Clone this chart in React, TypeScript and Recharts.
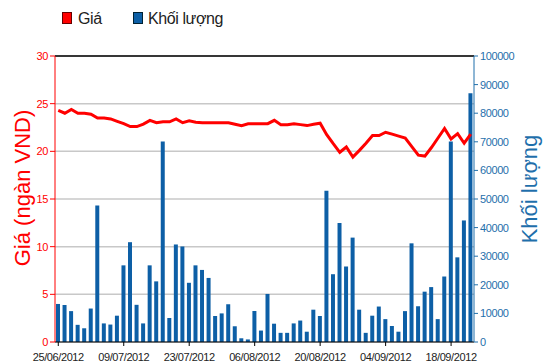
import React from "react";
import {
  ComposedChart,
  Bar,
  Line,
  XAxis,
  YAxis,
  CartesianGrid,
  ReferenceLine,
  Legend,
} from "recharts";

const RED = "#ff0000";
const BLUE = "#0d5fa6";
const BLUE_AXIS = "#1f6fab";
const FONT = "'Liberation Sans', Arial, sans-serif";

const dates = [
  "25/06/2012", "26/06/2012", "27/06/2012", "28/06/2012", "29/06/2012",
  "02/07/2012", "03/07/2012", "04/07/2012", "05/07/2012", "06/07/2012",
  "09/07/2012", "10/07/2012", "11/07/2012", "12/07/2012", "13/07/2012",
  "16/07/2012", "17/07/2012", "18/07/2012", "19/07/2012", "20/07/2012",
  "23/07/2012", "24/07/2012", "25/07/2012", "26/07/2012", "27/07/2012",
  "30/07/2012", "31/07/2012", "01/08/2012", "02/08/2012", "03/08/2012",
  "06/08/2012", "07/08/2012", "08/08/2012", "09/08/2012", "10/08/2012",
  "13/08/2012", "14/08/2012", "15/08/2012", "16/08/2012", "17/08/2012",
  "20/08/2012", "21/08/2012", "22/08/2012", "23/08/2012", "24/08/2012",
  "27/08/2012", "28/08/2012", "29/08/2012", "30/08/2012", "31/08/2012",
  "04/09/2012", "05/09/2012", "06/09/2012", "07/09/2012", "10/09/2012",
  "11/09/2012", "12/09/2012", "13/09/2012", "14/09/2012", "17/09/2012",
  "18/09/2012", "19/09/2012", "20/09/2012", "21/09/2012",
];

// giá, ngàn VND
const prices = [
  24.3, 24.0, 24.4, 24.0, 24.0, 23.9, 23.5, 23.5, 23.4, 23.15,
  22.9, 22.6, 22.6, 22.85, 23.25, 23.0, 23.1, 23.1, 23.4, 23.0,
  23.2, 23.05, 23.0, 23.0, 23.0, 23.0, 23.0, 22.85, 22.7, 22.9,
  22.9, 22.9, 22.9, 23.25, 22.8, 22.8, 22.9, 22.8, 22.7, 22.85,
  22.95, 21.75, 20.8, 19.9, 20.45, 19.4, 20.1, 20.85, 21.65, 21.65,
  22.0, 21.8, 21.6, 21.4, 20.5, 19.6, 19.5, 20.4, 21.4, 22.4,
  21.3, 21.85, 20.85, 21.8,
];

// khối lượng
const volumes = [
  13300, 12900, 10800, 6000, 4800, 11700, 47700, 6500, 6100, 9200,
  26800, 34900, 13000, 6500, 26800, 21200, 70100, 8400, 34100, 33400,
  20700, 26800, 25200, 22400, 9100, 10000, 13200, 5500, 1300, 900,
  10800, 4000, 16800, 6400, 3200, 3200, 6500, 7500, 3600, 11300,
  9100, 52900, 23700, 41600, 26400, 36500, 11300, 3200, 9200, 12400,
  8000, 5600, 3600, 10800, 34500, 12500, 17600, 19200, 8000, 22900,
  70100, 29600, 42500, 87000,
];

const priceTicks = [0, 5, 10, 15, 20, 25, 30];
const volumeTicks = [0, 10000, 20000, 30000, 40000, 50000, 60000, 70000, 80000, 90000, 100000];

const data = dates.map((d, i) => ({ date: d, price: prices[i], volume: volumes[i] }));

const tickFont = { fontFamily: FONT, fontSize: 11, letterSpacing: -0.4 };

function TopLegend() {
  return (
    <svg width={300} height={28} style={{ display: "block" }}>
      <rect x={62.5} y={12.5} width={9} height={11} fill={RED} stroke="#600" />
      <text x={78} y={24} fontSize={16} letterSpacing={-0.4} fontFamily={FONT} fill="#222">
        Giá
      </text>
      <rect x={133.5} y={12.5} width={9} height={11} fill={BLUE} stroke="#023" />
      <text x={148} y={24} fontSize={16} letterSpacing={-0.4} fontFamily={FONT} fill="#222">
        Khối lượng
      </text>
    </svg>
  );
}

export default function App() {
  return (
    <div style={{ position: "absolute", left: 0, top: 0, background: "#fff" }}>
      <ComposedChart
        width={550}
        height={364}
        data={data}
        margin={{ top: 28, right: 0, bottom: 0, left: 0 }}
        barSize={4}
        style={{ fontFamily: FONT }}
      >
        <CartesianGrid yAxisId="left" vertical={false} stroke="#c8c8c8" strokeWidth={1.5} />
        <ReferenceLine yAxisId="left" y={30} stroke="#000" strokeWidth={1.5} />
        <XAxis
          dataKey="date"
          interval={9}
          height={22}
          stroke="#000"
          tickSize={4}
          tickMargin={7}
          tick={{ fill: "#222", ...tickFont }}
        />
        <YAxis
          yAxisId="left"
          domain={[0, 30]}
          ticks={priceTicks}
          width={55}
          stroke={RED}
          tickSize={5}
          tickMargin={2}
          tick={{ fill: RED, ...tickFont }}
          label={{
            content: () => (
              <text
                x={30}
                y={188}
                transform="rotate(-90 30 188)"
                textAnchor="middle"
                fill={RED}
                fontSize={22}
                fontFamily={FONT}
              >
                Giá (ngàn VND)
              </text>
            ),
          }}
        />
        <YAxis
          yAxisId="right"
          orientation="right"
          domain={[0, 100000]}
          ticks={volumeTicks}
          width={76}
          stroke={BLUE_AXIS}
          tickSize={4}
          tickMargin={2}
          tick={{ fill: BLUE_AXIS, ...tickFont }}
          label={{
            content: () => (
              <text
                x={537}
                y={189}
                transform="rotate(-90 537 189)"
                textAnchor="middle"
                fill={BLUE_AXIS}
                fontSize={22}
                fontFamily={FONT}
              >
                Khối lượng
              </text>
            ),
          }}
        />
        <Legend
          verticalAlign="top"
          align="left"
          wrapperStyle={{ top: 0, left: 0, width: 300, height: 28 }}
          content={() => <TopLegend />}
        />
        <Bar yAxisId="right" dataKey="volume" name="Khối lượng" fill={BLUE} isAnimationActive={false} />
        <Line
          yAxisId="left"
          dataKey="price"
          name="Giá"
          type="linear"
          stroke={RED}
          strokeWidth={3}
          dot={false}
          activeDot={false}
          isAnimationActive={false}
        />
      </ComposedChart>
    </div>
  );
}
